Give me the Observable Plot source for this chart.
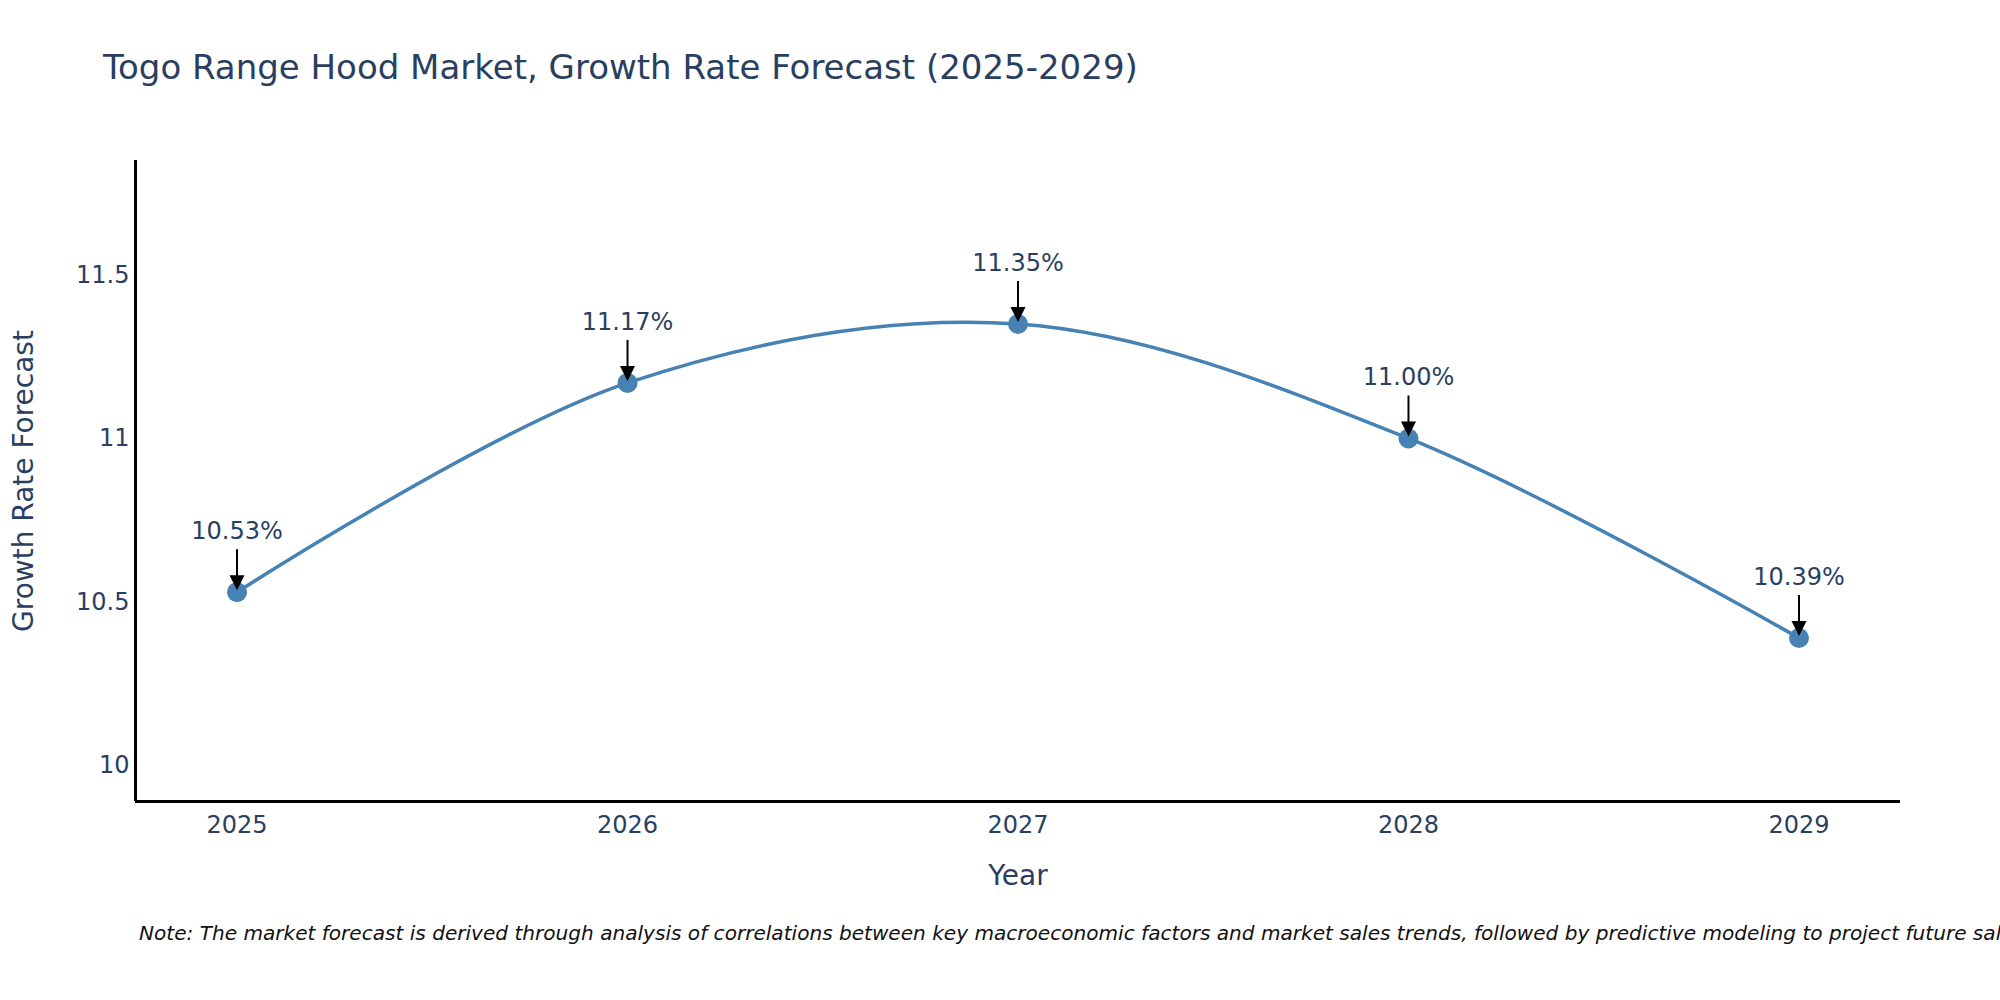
<!DOCTYPE html>
<html>
<head>
<meta charset="utf-8">
<script src="https://cdn.jsdelivr.net/npm/d3@7"></script>
<script src="https://cdn.jsdelivr.net/npm/@observablehq/plot@0.6"></script>
<style>
  html, body { margin: 0; padding: 0; background: white; overflow: hidden; }
  #wrap { position: relative; width: 2000px; height: 1000px; background: white; font-family: "DejaVu Sans", Verdana, sans-serif; overflow: hidden; }
  #title { position: absolute; left: 103px; top: 50px; font-size: 34px; line-height: 34px; color: #2a3f5f; white-space: nowrap; }
  #chart { position: absolute; left: 0; top: 100px; }
  #note { position: absolute; left: 139px; top: 923px; font-size: 20.08px; line-height: 20px; font-style: italic; color: #111; white-space: nowrap; }
</style>
</head>
<body>
<div id="wrap">
  <div id="title">Togo Range Hood Market, Growth Rate Forecast (2025-2029)</div>
  <div id="chart"></div>
  <div id="note">Note: The market forecast is derived through analysis of correlations between key macroeconomic factors and market sales trends, followed by predictive modeling to project future sales.</div>
</div>
<script>
// ---- data ----
const years = [2025, 2026, 2027, 2028, 2029];
const growth = [10.53, 11.17, 11.35, 11.00, 10.39];
const yTicks = [10, 10.5, 11, 11.5];
const xDomain = [2024.74, 2029.26];
const yDomain = [9.89, 11.85];
const xLabel = "Year";
const yLabel = "Growth Rate Forecast";

const data = years.map((year, i) => ({year, value: growth[i], label: growth[i].toFixed(2) + "%"}));

// arrow pieces drawn in pixel space relative to each point
const shaft = { draw(ctx) { ctx.moveTo(0, -43); ctx.lineTo(0, -15); } };
const head = { draw(ctx) { ctx.moveTo(0, -2); ctx.lineTo(-7.5, -17); ctx.lineTo(7.5, -17); ctx.closePath(); } };

const textColor = "#2a3f5f";
const lineColor = "#4682b4";

const chart = Plot.plot({
  width: 2000,
  height: 800,
  marginTop: 60,
  marginBottom: 99,
  marginLeft: 135,
  marginRight: 100,
  x: { domain: xDomain },
  y: { domain: yDomain },
  style: { fontFamily: "'DejaVu Sans', Verdana, sans-serif", fontSize: "24px", color: textColor, background: "white", overflow: "visible" },
  marks: [
    Plot.axisX({ ticks: years, tickFormat: d => String(d), tickSize: 0, tickPadding: 14, label: null, fontSize: 24, fill: textColor }),
    Plot.axisY({ ticks: yTicks, tickFormat: d => String(d), tickSize: 0, tickPadding: 6, label: null, fontSize: 24, fill: textColor }),
    Plot.ruleX([xDomain[0]], { stroke: "black", strokeWidth: 3 }),
    Plot.ruleY([yDomain[0]], { stroke: "black", strokeWidth: 3 }),
    Plot.line(data, { x: "year", y: "value", curve: "catmull-rom", stroke: lineColor, strokeWidth: 3.5 }),
    Plot.dot(data, { x: "year", y: "value", r: 10, fill: lineColor, stroke: "none" }),
    Plot.dot(data, { x: "year", y: "value", symbol: shaft, fill: "none", stroke: "black", strokeWidth: 2 }),
    Plot.dot(data, { x: "year", y: "value", symbol: head, fill: "black", stroke: "none" }),
    Plot.text(data, { x: "year", y: "value", text: "label", dy: -61, lineAnchor: "middle", fontSize: 24, fill: textColor }),
    Plot.text([xLabel], { frameAnchor: "bottom", dy: 75, lineAnchor: "middle", textAnchor: "middle", fontSize: 28, fill: textColor }),
    Plot.text([yLabel], { frameAnchor: "left", dx: -111, rotate: -90, lineAnchor: "middle", textAnchor: "middle", fontSize: 28, fill: textColor })
  ]
});
document.getElementById("chart").appendChild(chart);
</script>
</body>
</html>
